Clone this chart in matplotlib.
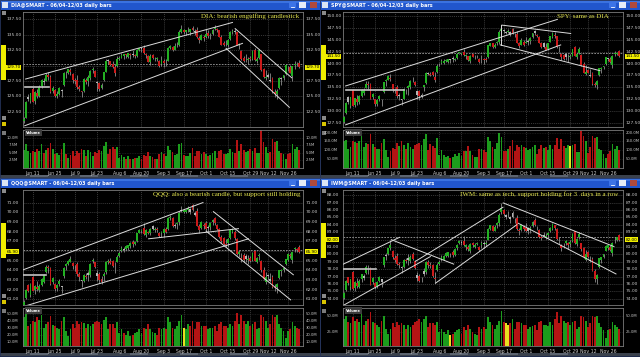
import numpy as np
import matplotlib
matplotlib.use("Agg")
import matplotlib.pyplot as plt
from matplotlib.patches import Rectangle
from matplotlib.transforms import blended_transform_factory

# ---------------------------------------------------------------- data
# 126 trading days, 2012-06-04 .. 2012-12-03 (index 0 .. 125)
date_labels = ["Jun 11", "Jun 25", "Jul 9", "Jul 23", "Aug 6", "Aug 20", "Sep 3",
               "Sep 17", "Oct 1", "Oct 15", "Oct 29", "Nov 12", "Nov 26"]
date_label_idx = [5, 15, 24, 34, 44, 54, 64, 73, 83, 93, 103, 111, 120]

# DIA
dia_open = [
    121.1, 120.9, 121.5, 124.9, 124.3, 126.2, 124.3, 125.6, 125.0, 126.6, 127.3, 127.5, 128.4, 128.2, 125.8, 126.0, 125.1, 125.4, 125.9, 126.8,
    128.8, 128.7, 129.2, 128.6, 127.6, 127.6, 126.5, 125.8, 125.8, 127.7, 127.5, 128.0, 129.2, 129.1, 127.2, 127.1, 126.3, 127.6, 129.0, 130.7, 130.7,
    130.3, 129.8, 129.9, 131.0, 131.3, 131.5, 131.8, 131.4, 131.9, 131.8, 131.7, 131.6, 132.6, 132.7, 132.8, 131.9, 131.6, 130.5, 131.7, 131.1, 131.1, 130.8, 130.3,
    130.8, 130.5, 130.8, 132.9, 133.0, 132.6, 133.4, 133.4, 135.5, 135.7, 135.4, 135.7, 135.4, 136.1, 135.5, 135.7, 134.5, 134.2, 134.7,
    134.6, 135.3, 134.9, 135.1, 135.9, 135.9, 135.7, 134.6, 133.6, 133.4, 133.4, 134.3, 135.4, 135.5, 135.4, 133.3, 132.4, 131.3, 131.1, 130.9, 131.2,
    131.0, 132.5, 130.8, 131.2, 131.8, 129.4, 127.9, 128.4, 127.5, 127.9, 125.7, 125.4, 126.3, 127.8, 127.9, 128.6, 129.8, 129.7, 128.3, 130.1, 130.2,
    130.4]
dia_high = [
    121.6, 121.7, 124.2, 125.3, 125.6, 126.5, 125.8, 126.2, 126.8, 127.8, 127.9, 128.8, 128.9, 128.4, 126.6, 126.1, 125.8, 126.5, 126.1, 128.9,
    129.1, 129.5, 129.6, 128.7, 127.9, 128.4, 126.9, 125.9, 127.9, 127.9, 128.5, 129.3, 129.7, 129.2, 127.5, 127.3, 127.2, 129.0, 131.0, 131.0, 130.8,
    130.8, 130.2, 131.5, 131.6, 132.1, 131.9, 131.9, 132.1, 132.0, 132.5, 131.9, 132.7, 132.9, 132.8, 133.3, 132.0, 131.7, 131.8, 131.9, 131.4, 131.4, 130.9, 131.5,
    131.0, 131.0, 133.0, 133.4, 133.2, 133.6, 133.8, 135.7, 136.6, 135.9, 135.8, 136.2, 136.0, 136.5, 135.9, 136.3, 134.8, 135.2, 134.9,
    135.9, 135.7, 135.3, 135.9, 136.6, 136.1, 135.8, 134.9, 134.0, 134.1, 134.3, 135.6, 135.9, 136.0, 135.5, 133.7, 132.6, 131.6, 131.8, 131.4, 131.6,
    132.5, 132.8, 131.4, 132.7, 131.9, 129.6, 129.2, 128.7, 128.7, 128.2, 126.1, 126.1, 128.1, 128.1, 128.5, 130.2, 130.0, 130.1, 130.0, 130.7, 130.6,
    130.9]
dia_low = [
    120.2, 120.6, 121.5, 124.2, 123.9, 124.0, 123.8, 124.7, 124.8, 126.3, 126.8, 127.4, 127.6, 125.5, 125.6, 124.8, 124.7, 125.2, 124.9, 126.7,
    128.0, 128.6, 128.5, 127.2, 127.0, 126.2, 125.9, 124.9, 125.7, 127.0, 126.6, 127.6, 128.8, 128.1, 125.9, 125.8, 126.1, 127.4, 128.9, 130.3, 130.0,
    129.6, 128.3, 129.8, 130.9, 131.2, 131.1, 131.3, 131.2, 131.0, 131.4, 131.3, 131.4, 132.4, 132.2, 131.8, 131.2, 130.5, 130.1, 131.1, 130.7, 130.8, 129.8, 129.9,
    129.8, 130.0, 130.7, 132.7, 132.4, 132.5, 133.0, 133.1, 135.3, 135.1, 135.0, 135.4, 134.9, 135.6, 135.0, 134.5, 133.6, 134.1, 134.0,
    134.5, 134.4, 134.3, 134.9, 135.7, 135.5, 134.6, 133.3, 133.2, 133.1, 133.0, 134.2, 135.1, 135.1, 133.3, 132.7, 130.9, 130.6, 130.6, 130.2, 130.8,
    130.9, 130.8, 130.4, 131.1, 129.1, 128.0, 127.6, 127.9, 127.3, 125.6, 124.9, 124.6, 126.2, 126.9, 127.6, 128.5, 129.1, 128.7, 127.4, 129.5, 129.9,
    129.6]
dia_close = [
    121.0, 121.3, 124.1, 124.6, 125.5, 124.1, 125.7, 125.0, 126.5, 127.7, 127.4, 128.4, 128.2, 125.7, 126.4, 125.0, 125.4, 126.3, 126.0, 128.8,
    128.7, 129.4, 129.0, 127.7, 127.4, 126.5, 126.1, 125.7, 127.8, 127.3, 128.1, 129.1, 129.4, 128.2, 127.2, 126.2, 126.8, 128.9, 130.8, 130.7, 130.1,
    129.8, 128.8, 131.0, 131.2, 131.7, 131.8, 131.7, 132.1, 131.7, 131.7, 131.6, 132.5, 132.8, 132.7, 132.0, 131.7, 130.6, 131.6, 131.2, 131.0, 131.1, 130.0, 130.9,
    130.4, 130.5, 132.9, 133.1, 132.5, 133.2, 133.3, 135.4, 135.9, 135.5, 135.7, 135.8, 136.0, 135.8, 135.6, 134.6, 134.1, 134.9, 134.4,
    135.2, 134.8, 135.0, 135.8, 136.1, 135.8, 134.7, 133.4, 133.3, 133.3, 134.2, 135.5, 135.6, 135.5, 133.4, 133.5, 131.0, 130.8, 131.0, 131.1, 131.0,
    132.3, 130.9, 131.1, 132.5, 129.3, 128.1, 128.2, 128.2, 127.6, 125.7, 125.4, 125.9, 128.0, 127.9, 128.4, 130.1, 129.7, 128.8, 129.9, 130.2, 130.3,
    129.7]
dia_vol = [  # millions
    6.5, 5.8, 7.9, 5.5, 4.9, 5.6, 5.2, 6.4, 5.6, 7.8, 4.8, 5.9, 6.6, 8.1, 6.2, 4.5, 4.9, 4.2, 6.3, 8.2,
    4.6, 3.2, 4.3, 5.7, 4.1, 5.5, 4.8, 6.2, 5.9, 4.0, 5.8, 5.2, 4.1, 5.1, 4.9, 5.8, 5.5, 7.2, 8.6, 4.7, 6.4,
    6.9, 6.1, 7.0, 3.3, 4.2, 3.5, 3.1, 3.8, 2.9, 3.0, 3.2, 3.4, 3.8, 3.1, 4.4, 4.0, 5.4, 4.1, 3.6, 3.1, 2.9, 4.6, 5.1,
    4.5, 3.9, 7.2, 5.8, 5.1, 4.2, 4.5, 7.9, 8.3, 4.3, 4.0, 4.1, 4.8, 6.6, 3.9, 5.6, 5.7, 4.5, 5.3,
    4.6, 3.9, 4.4, 4.9, 5.5, 3.4, 5.5, 5.8, 4.6, 4.7, 4.9, 6.1, 5.4, 5.0, 9.1, 5.7, 8.0, 5.9, 5.3, 5.6, 6.2,
    5.5, 6.7, 4.8, 5.0, 12.4, 8.5, 6.9, 4.9, 5.3, 9.4, 8.7, 8.9, 5.5, 4.9, 4.6, 2.9, 4.5, 4.9, 7.8, 6.2, 6.9,
    5.8]
dia_lines = [(1.8, 127.8, 95.0, 137.0), (1.4, 120.2, 99.5, 133.6),
             (96.2, 136.0, 121.7, 128.0), (92.1, 132.8, 120.6, 123.2)]
dia_level = (1.4, 12.3, 126.55)
dia_vol_flag = []

# SPY
spy_open = [
    128.4, 127.8, 129.6, 132.9, 131.0, 134.4, 131.4, 132.5, 131.9, 133.2, 133.8, 134.9, 135.8, 135.7, 132.9, 132.5, 131.6, 132.5, 132.3, 134.1,
    136.4, 136.6, 137.0, 135.7, 134.5, 135.0, 133.3, 132.4, 132.6, 134.2, 134.8, 135.1, 136.7, 136.2, 133.5, 134.2, 133.3, 135.0, 136.0, 137.8, 137.9,
    138.3, 137.2, 138.3, 139.6, 140.1, 140.2, 140.5, 140.4, 140.7, 141.2, 140.8, 141.1, 142.2, 142.0, 142.4, 141.5, 141.5, 140.5, 141.9, 141.3, 141.5, 141.0, 140.9,
    140.9, 140.8, 141.3, 143.7, 144.2, 143.4, 144.3, 144.5, 146.9, 146.8, 146.4, 146.7, 146.2, 147.2, 145.7, 146.1, 144.3, 143.9, 144.5,
    144.3, 144.6, 144.7, 145.6, 146.8, 145.9, 145.6, 144.3, 144.2, 143.4, 143.1, 144.6, 145.6, 146.0, 145.7, 143.2, 142.0, 141.8, 141.9, 141.3, 141.4,
    141.6, 143.4, 141.3, 142.3, 141.7, 139.9, 137.9, 138.6, 137.3, 138.0, 135.8, 135.6, 137.5, 138.8, 139.2, 139.8, 141.0, 141.0, 139.6, 142.0, 142.0,
    142.6]
spy_high = [
    128.7, 129.0, 131.9, 133.2, 133.0, 134.5, 132.8, 133.5, 133.5, 134.6, 134.9, 136.3, 136.3, 135.9, 133.8, 132.6, 132.5, 133.4, 132.5, 136.2,
    136.8, 137.5, 137.8, 135.8, 134.9, 135.6, 133.8, 132.6, 134.8, 134.7, 135.5, 136.6, 137.2, 136.3, 134.5, 134.4, 133.9, 135.6, 138.2, 138.3, 138.3,
    138.5, 138.3, 139.8, 140.2, 141.0, 140.9, 141.0, 141.0, 141.0, 141.6, 141.1, 142.2, 142.3, 142.3, 143.1, 142.1, 141.6, 141.8, 142.0, 141.7, 141.8, 141.1, 141.8,
    141.1, 141.3, 143.9, 144.4, 144.4, 144.4, 144.7, 147.0, 148.1, 147.2, 146.9, 147.3, 146.9, 147.5, 146.4, 146.8, 144.5, 145.3, 144.9,
    145.6, 145.2, 145.5, 146.4, 147.1, 146.1, 145.7, 144.5, 144.6, 144.4, 144.3, 145.8, 146.6, 146.6, 145.8, 143.7, 142.2, 142.1, 142.3, 141.9, 142.1,
    143.1, 143.6, 142.2, 143.4, 141.9, 140.3, 139.7, 138.8, 138.9, 138.3, 136.2, 136.5, 139.0, 139.2, 139.5, 141.4, 141.2, 141.4, 141.7, 142.6, 142.5,
    142.9]
spy_low = [
    127.1, 127.6, 129.5, 131.6, 130.6, 131.1, 130.8, 131.4, 131.5, 132.9, 133.4, 134.8, 134.7, 132.5, 132.6, 131.2, 131.0, 132.1, 131.1, 133.9,
    135.3, 136.5, 136.3, 134.1, 133.9, 132.8, 132.4, 131.4, 132.5, 133.6, 133.4, 134.6, 136.2, 135.3, 132.5, 132.4, 132.7, 134.2, 135.8, 137.5, 137.4,
    137.3, 136.2, 138.1, 139.5, 139.9, 140.0, 140.4, 140.2, 140.1, 140.3, 140.6, 140.9, 141.9, 141.7, 141.6, 140.9, 140.5, 140.2, 141.3, 140.9, 141.2, 140.1, 140.1,
    139.9, 140.3, 141.2, 143.6, 143.3, 143.3, 143.8, 144.0, 146.6, 146.4, 146.1, 146.4, 145.7, 146.2, 145.6, 144.3, 143.3, 143.8, 143.7,
    144.2, 143.8, 144.1, 145.4, 145.9, 145.5, 144.2, 143.3, 143.3, 142.9, 142.8, 144.5, 145.4, 145.4, 143.3, 142.4, 140.8, 140.8, 140.7, 140.4, 140.9,
    141.5, 141.5, 141.0, 142.1, 139.5, 138.0, 137.6, 138.0, 137.2, 135.6, 135.0, 134.7, 137.4, 138.0, 138.8, 139.7, 140.5, 140.2, 139.0, 141.5, 141.7,
    141.4]
spy_close = [
    128.1, 128.9, 131.8, 131.9, 132.9, 131.2, 132.7, 131.9, 133.2, 134.4, 134.5, 135.8, 135.6, 132.6, 133.6, 131.5, 132.3, 133.2, 132.3, 136.1,
    136.5, 137.4, 136.7, 134.6, 134.3, 133.2, 133.2, 132.5, 134.6, 134.3, 135.3, 136.4, 136.8, 135.5, 134.3, 133.1, 133.2, 135.5, 138.0, 137.9, 137.7,
    137.6, 136.6, 139.4, 139.7, 140.5, 140.6, 140.8, 141.0, 140.9, 140.9, 141.0, 142.0, 142.2, 142.2, 141.8, 141.8, 140.7, 141.5, 141.4, 141.4, 141.5, 140.3, 141.0,
    140.8, 140.7, 143.8, 144.3, 143.4, 143.9, 144.4, 146.6, 147.2, 146.8, 146.6, 146.8, 146.7, 146.3, 145.8, 144.4, 143.6, 145.0, 143.9,
    144.4, 144.5, 145.3, 146.4, 146.4, 145.8, 144.3, 143.4, 143.4, 142.9, 144.2, 145.7, 146.3, 145.8, 143.4, 143.3, 141.4, 141.0, 141.4, 141.4, 141.4,
    143.0, 141.6, 142.0, 143.1, 139.7, 138.0, 138.2, 138.1, 137.6, 135.7, 135.4, 136.4, 139.0, 139.1, 139.4, 141.4, 141.1, 140.4, 141.6, 142.2, 142.2,
    141.5]
spy_vol = [
    140, 150, 160, 110, 120, 150, 145, 140, 155, 180, 120, 140, 135, 190, 135, 120, 110, 105, 140, 165,
    100, 60, 95, 115, 105, 140, 125, 150, 130, 110, 140, 120, 105, 130, 135, 140, 130, 165, 190, 100, 135,
    125, 115, 170, 75, 100, 75, 60, 70, 55, 65, 80, 70, 85, 70, 95, 95, 125, 95, 75, 65, 65, 110, 110,
    100, 90, 175, 150, 120, 110, 140, 200, 175, 95, 95, 110, 125, 160, 95, 130, 120, 130, 120,
    115, 100, 110, 120, 130, 80, 110, 130, 115, 120, 100, 130, 110, 130, 170, 110, 165, 125, 115, 130, 125,
    130, 135, 90, 90, 210, 180, 150, 85, 120, 180, 170, 175, 110, 100, 80, 55, 80, 95, 135, 110, 125,
    100]
spy_lines = [(1.8, 135.3, 97.2, 149.25), (1.8, 127.15, 98.7, 143.9),
             (72.2, 148.05, 103.2, 146.3), (71.5, 143.9, 116.4, 138.5),
             (72.0, 148.05, 72.0, 143.9)]
spy_level = (1.8, 28.0, 134.5)
spy_vol_flag = [103]

# QQQ
qqq_open = [
    60.5, 60.4, 61.1, 62.5, 61.4, 63.3, 62.0, 62.3, 62.0, 62.5, 62.8, 63.8, 64.3, 64.2, 62.8, 62.6, 62.2, 62.6, 62.3, 63.4,
    64.4, 64.6, 64.9, 64.7, 64.3, 64.6, 63.6, 62.9, 62.9, 63.4, 63.7, 63.5, 65.0, 64.8, 63.4, 63.6, 63.1, 63.4, 63.8, 64.9, 65.0,
    65.0, 64.1, 64.9, 65.5, 66.0, 66.1, 66.2, 66.3, 66.5, 66.9, 66.7, 67.0, 67.9, 68.1, 68.4, 67.6, 68.0, 67.8, 68.6, 68.2, 68.3, 67.9, 67.9,
    67.8, 68.3, 68.3, 69.4, 69.4, 68.7, 68.8, 69.0, 70.2, 70.0, 70.0, 70.2, 70.0, 70.7, 69.7, 70.1, 68.6, 68.4, 68.7,
    68.9, 68.5, 68.5, 69.0, 69.4, 68.7, 68.3, 67.4, 67.3, 66.7, 66.8, 67.3, 68.0, 68.0, 67.2, 65.7, 65.3, 65.6, 65.5, 65.1, 65.3,
    65.1, 66.0, 64.9, 65.5, 65.0, 64.0, 62.8, 63.5, 62.9, 63.3, 62.3, 62.3, 63.2, 63.9, 64.0, 64.6, 65.1, 65.6, 65.1, 66.2, 66.2,
    66.4]
qqq_high = [
    60.9, 60.9, 62.1, 62.6, 62.7, 63.4, 62.5, 62.9, 62.6, 63.2, 63.6, 64.5, 64.5, 64.3, 63.3, 62.7, 62.6, 63.1, 62.4, 64.3,
    64.7, 65.1, 65.5, 64.8, 64.5, 64.9, 63.8, 63.0, 63.6, 63.7, 63.9, 64.7, 65.3, 64.9, 64.0, 63.8, 63.4, 63.8, 65.0, 65.2, 65.3,
    65.1, 64.8, 65.6, 66.0, 66.5, 66.4, 66.6, 66.6, 66.9, 67.1, 67.0, 67.9, 68.3, 68.3, 68.9, 68.3, 68.1, 68.4, 68.7, 68.5, 68.5, 68.0, 68.1,
    68.4, 68.5, 69.5, 69.7, 69.5, 68.9, 69.0, 70.1, 70.6, 70.3, 70.3, 70.6, 70.4, 70.8, 70.1, 70.4, 68.8, 69.1, 68.9,
    69.1, 68.7, 69.0, 69.3, 69.5, 68.8, 68.4, 67.6, 67.4, 67.2, 67.3, 68.3, 68.4, 68.2, 67.3, 66.1, 65.8, 65.8, 65.7, 65.6, 65.5,
    65.9, 66.1, 65.4, 65.8, 65.1, 64.3, 63.8, 63.6, 63.7, 63.5, 62.6, 62.7, 64.0, 64.1, 64.3, 65.2, 65.8, 65.8, 65.9, 66.4, 66.3,
    66.6]
qqq_low = [
    60.2, 60.3, 61.0, 61.7, 61.2, 61.8, 61.5, 61.8, 61.7, 62.4, 62.7, 63.7, 63.7, 62.5, 62.6, 61.9, 61.9, 62.4, 61.6, 63.2,
    64.0, 64.5, 64.8, 64.1, 63.9, 63.4, 62.9, 62.3, 62.8, 63.1, 62.9, 63.3, 64.7, 64.2, 62.9, 62.7, 62.6, 62.9, 63.6, 64.6, 64.6,
    64.3, 63.7, 64.8, 65.4, 65.9, 65.9, 66.1, 66.1, 66.3, 66.4, 66.6, 66.9, 67.8, 67.9, 67.6, 67.4, 67.7, 67.6, 68.2, 68.0, 68.0, 67.4, 67.4,
    67.4, 67.9, 68.2, 69.2, 68.5, 68.4, 68.3, 68.7, 70.0, 69.9, 69.9, 70.0, 69.8, 70.1, 69.6, 68.6, 67.9, 68.3, 68.3,
    68.1, 67.9, 68.2, 68.7, 68.7, 68.2, 67.3, 66.8, 66.6, 66.4, 66.4, 67.2, 67.8, 67.1, 65.6, 65.4, 64.9, 64.9, 64.9, 64.6, 64.8,
    65.0, 65.0, 64.7, 65.1, 63.8, 63.0, 62.6, 63.0, 62.8, 62.2, 61.9, 61.6, 63.1, 63.4, 63.8, 64.5, 65.0, 65.3, 64.7, 65.9, 65.9,
    65.8]
qqq_close = [
    60.6, 60.7, 62.0, 61.8, 62.6, 61.9, 62.4, 62.1, 62.4, 63.1, 63.5, 64.3, 64.2, 62.6, 63.2, 62.1, 62.5, 62.9, 62.3, 64.2,
    64.6, 65.0, 65.2, 64.4, 64.3, 63.6, 63.3, 62.9, 63.5, 63.3, 63.5, 64.6, 65.1, 64.3, 63.7, 63.0, 62.8, 63.6, 64.9, 64.9, 64.7,
    64.4, 64.1, 65.4, 65.8, 66.3, 66.2, 66.5, 66.6, 66.8, 66.7, 66.9, 67.8, 68.2, 68.2, 67.7, 68.2, 67.9, 68.3, 68.3, 68.3, 68.2, 67.5, 67.9,
    68.3, 68.0, 69.4, 69.5, 68.6, 68.6, 68.9, 69.9, 70.1, 70.2, 70.2, 70.4, 70.3, 70.2, 69.9, 68.6, 68.2, 69.0, 68.6,
    68.3, 68.4, 68.9, 69.2, 68.9, 68.3, 67.4, 67.0, 66.7, 66.6, 67.2, 68.2, 68.3, 67.3, 65.7, 65.9, 65.2, 65.1, 65.2, 65.2, 65.0,
    65.8, 65.0, 65.3, 65.6, 64.0, 63.1, 63.3, 63.4, 63.1, 62.3, 62.2, 62.6, 64.0, 64.0, 64.2, 65.2, 65.7, 65.5, 65.9, 66.2, 66.1,
    65.9]
qqq_vol = [
    55, 45, 50, 32, 35, 40, 38, 45, 42, 48, 30, 35, 38, 47, 34, 32, 30, 28, 40, 45,
    25, 18, 28, 35, 30, 40, 35, 38, 37, 30, 35, 32, 35, 38, 40, 38, 35, 42, 45, 28, 36,
    35, 30, 38, 22, 28, 22, 20, 25, 18, 20, 22, 24, 28, 22, 30, 28, 35, 28, 24, 22, 20, 30, 28,
    30, 28, 45, 38, 30, 28, 32, 40, 48, 30, 28, 35, 33, 40, 28, 38, 38, 32, 33,
    32, 28, 30, 30, 33, 25, 35, 38, 32, 32, 30, 35, 32, 40, 52, 35, 48, 40, 35, 40, 33,
    35, 38, 28, 30, 48, 45, 40, 30, 35, 48, 45, 48, 35, 30, 25, 15, 25, 28, 38, 32, 30,
    28]
qqq_lines = [(0.8, 64.05, 81.7, 71.0), (0.8, 60.24, 102.2, 67.25),
             (57.2, 67.25, 97.7, 68.3), (86.4, 70.06, 122.4, 63.53),
             (83.1, 68.05, 121.2, 60.93)]
qqq_level = (0.8, 10.8, 63.47)
qqq_vol_flag = [73]

# IWM
iwm_open = [
    74.2, 74.1, 75.2, 76.9, 75.6, 77.6, 75.5, 76.1, 75.6, 76.6, 76.8, 77.5, 78.2, 78.1, 76.2, 76.1, 75.7, 76.4, 76.3, 78.5,
    79.9, 80.0, 80.8, 80.5, 79.5, 79.8, 78.7, 78.1, 78.3, 79.2, 79.5, 79.1, 80.0, 79.1, 76.8, 77.1, 76.5, 77.8, 77.6, 79.0, 78.6,
    78.6, 76.8, 77.9, 78.7, 79.2, 79.3, 79.8, 79.8, 80.0, 80.3, 79.9, 80.8, 81.5, 81.6, 81.8, 81.0, 81.0, 80.5, 81.6, 81.0, 81.4, 81.0, 81.2,
    81.4, 81.4, 82.0, 83.4, 83.8, 83.2, 84.0, 84.2, 85.7, 86.0, 85.1, 85.4, 84.8, 85.6, 84.7, 84.9, 83.3, 83.3, 83.8,
    83.6, 83.5, 83.3, 83.8, 84.7, 83.6, 83.3, 82.3, 82.6, 82.4, 82.6, 83.1, 83.4, 83.9, 83.4, 82.0, 81.2, 81.3, 81.6, 81.6, 81.4,
    81.8, 83.1, 81.4, 82.3, 81.5, 80.8, 79.3, 80.3, 79.1, 79.4, 77.8, 76.7, 78.3, 79.3, 79.7, 80.4, 80.9, 81.0, 80.2, 81.9, 82.0,
    82.6]
iwm_high = [
    74.7, 74.9, 76.5, 77.0, 76.7, 77.7, 76.4, 76.8, 76.6, 77.4, 77.3, 78.5, 78.5, 78.3, 76.9, 76.2, 76.4, 77.1, 76.7, 79.7,
    80.2, 80.9, 82.0, 80.6, 79.9, 80.2, 79.0, 78.4, 79.4, 79.5, 80.0, 79.9, 80.3, 79.2, 77.6, 77.3, 77.0, 78.1, 79.1, 79.3, 78.9,
    78.7, 77.6, 78.8, 79.3, 79.9, 79.9, 80.3, 80.3, 80.2, 80.6, 80.8, 81.4, 81.9, 81.9, 82.5, 81.4, 81.2, 81.6, 81.7, 81.5, 81.7, 81.1, 81.8,
    81.8, 81.9, 83.5, 84.0, 84.0, 83.9, 84.4, 85.6, 86.9, 86.1, 85.5, 85.8, 85.2, 85.8, 84.9, 85.3, 83.5, 84.1, 84.0,
    84.3, 83.7, 83.8, 84.5, 84.9, 83.8, 83.4, 82.6, 83.0, 82.9, 83.0, 83.7, 84.2, 84.0, 83.5, 82.3, 81.4, 81.6, 82.0, 81.7, 82.0,
    82.9, 83.2, 82.2, 83.0, 81.6, 81.0, 80.6, 80.4, 79.8, 79.6, 78.0, 77.3, 79.5, 79.7, 80.1, 81.2, 81.3, 81.3, 81.7, 82.3, 82.4,
    82.8]
iwm_low = [
    73.5, 73.9, 75.1, 75.9, 75.2, 75.2, 75.0, 75.5, 75.4, 76.3, 76.5, 77.4, 77.4, 75.8, 76.0, 75.3, 75.4, 76.2, 75.6, 78.3,
    79.2, 79.9, 80.6, 79.4, 79.0, 78.5, 78.1, 77.5, 78.2, 78.8, 78.6, 78.8, 79.2, 78.0, 76.4, 76.2, 76.2, 77.1, 77.4, 78.2, 78.2,
    76.9, 76.1, 77.8, 78.6, 79.1, 79.2, 79.6, 79.6, 79.6, 79.6, 79.8, 80.6, 81.4, 81.2, 81.1, 80.6, 80.5, 80.2, 81.0, 80.9, 81.2, 80.4, 80.8,
    80.9, 81.1, 81.9, 83.3, 83.1, 83.1, 83.6, 83.8, 85.5, 85.2, 84.8, 85.1, 84.3, 84.9, 84.3, 83.3, 82.6, 83.2, 83.1,
    83.0, 82.7, 82.9, 83.7, 83.8, 83.3, 82.2, 81.9, 82.3, 82.1, 82.2, 83.0, 83.3, 83.3, 82.0, 81.4, 80.5, 80.8, 81.2, 80.7, 81.0,
    81.7, 81.4, 81.1, 82.1, 80.4, 79.5, 79.1, 79.5, 78.9, 77.7, 76.2, 76.0, 78.2, 78.8, 79.5, 80.4, 80.6, 80.4, 79.8, 81.6, 81.8,
    81.8]
iwm_close = [
    74.4, 74.8, 76.4, 76.1, 76.6, 75.3, 76.3, 75.7, 76.4, 77.3, 77.1, 78.3, 78.1, 75.9, 76.8, 75.6, 76.3, 77.0, 76.6, 79.6,
    79.8, 80.8, 81.3, 79.7, 79.3, 78.7, 78.6, 78.3, 79.3, 79.1, 79.3, 79.7, 79.4, 78.1, 77.2, 76.4, 76.5, 77.4, 79.0, 78.5, 78.4,
    77.1, 76.6, 78.6, 78.9, 79.6, 79.8, 80.2, 80.3, 80.0, 79.9, 80.7, 81.3, 81.8, 81.7, 81.3, 81.3, 80.7, 81.4, 81.2, 81.3, 81.4, 80.6, 81.6,
    81.5, 81.5, 83.4, 83.9, 83.2, 83.7, 84.2, 85.3, 86.3, 85.4, 85.3, 85.5, 85.1, 85.1, 84.6, 83.4, 83.1, 84.0, 83.4,
    83.2, 83.2, 83.6, 84.4, 84.0, 83.5, 82.3, 82.2, 82.5, 82.5, 82.9, 83.6, 84.1, 83.5, 82.1, 81.9, 80.9, 81.2, 81.8, 81.2, 81.7,
    82.8, 81.5, 82.1, 82.8, 80.7, 79.6, 80.1, 79.7, 79.2, 77.8, 76.6, 77.2, 79.5, 79.6, 80.0, 81.1, 81.2, 80.6, 81.6, 81.9, 82.3,
    82.0]
iwm_vol = [
    55, 45, 50, 40, 38, 48, 42, 45, 40, 52, 35, 42, 45, 55, 40, 38, 35, 32, 42, 50,
    30, 22, 30, 38, 32, 40, 35, 38, 35, 30, 35, 33, 35, 40, 42, 45, 40, 45, 50, 32, 38,
    38, 35, 40, 25, 30, 25, 22, 28, 20, 22, 25, 28, 30, 22, 32, 28, 35, 30, 25, 22, 20, 32, 30,
    32, 30, 48, 40, 35, 30, 35, 42, 58, 40, 38, 35, 38, 45, 30, 40, 40, 38, 35,
    36, 30, 32, 34, 35, 28, 40, 42, 35, 36, 34, 40, 36, 45, 55, 38, 50, 42, 38, 40, 36,
    40, 42, 30, 32, 50, 48, 42, 32, 38, 50, 48, 50, 38, 32, 28, 15, 28, 30, 40, 35, 32,
    30]
iwm_lines = [(0.8, 78.68, 26.1, 82.3), (0.8, 73.1, 40.0, 79.7),
             (22.4, 81.98, 50.5, 78.68), (33.3, 79.06, 72.7, 86.37),
             (42.3, 76.1, 78.9, 84.0), (72.8, 86.95, 122.7, 81.05),
             (79.6, 84.2, 123.6, 77.35)]
iwm_level = (0.8, 15.3, 78.06)
iwm_vol_flag = [49, 74, 75]

# ---------------------------------------------------------------- style
W, H = 640, 357
GREEN, RED, GRAY = "#22b022", "#cc1a1a", "#b4b4b4"
VGREEN, VRED, VYEL = "#1c9c1c", "#b41414", "#e8e020"
GRID = "#4e4e4e"
LABEL = "#c8c8c8"
TITLE_BLUE = "#2156cc"
NOTE = "#e6e650"

fig = plt.figure(figsize=(W / 100, H / 100), dpi=100)
fig.patch.set_facecolor("black")
bg = fig.add_axes([0, 0, 1, 1])
bg.set_xlim(0, W)
bg.set_ylim(H, 0)
bg.axis("off")


def px_axes(x, y, w, h):
    """Axes placed in top-left pixel coordinates."""
    ax = fig.add_axes([x / W, 1 - (y + h) / H, w / W, h / H])
    ax.set_facecolor("black")
    for s in ax.spines.values():
        s.set_color("#7a7a7a")
        s.set_linewidth(0.6)
    ax.set_xticks([])
    ax.set_yticks([])
    return ax


def chrome(ox, oy, name):
    bg.add_patch(Rectangle((ox, oy), 320, 9.5, color=TITLE_BLUE, lw=0))
    bg.add_patch(Rectangle((ox, oy), 320, 2.5, color="#3a72e0", lw=0))
    bg.add_patch(Rectangle((ox + 2, oy + 1.5), 6, 6, color="#dce6f4", lw=0))
    bg.text(ox + 11, oy + 5, f"{name}@SMART - 06/04-12/03 daily bars",
            color="white", fontsize=3.5, fontweight="bold", va="center")
    bg.add_patch(Rectangle((ox + 289, oy + 1.5), 7, 6.5, color="#3d74e6", lw=0))
    bg.plot([ox + 291, ox + 294], [oy + 6.5, oy + 6.5], color="white", lw=0.6)
    bg.add_patch(Rectangle((ox + 299, oy + 1.5), 7, 6.5, color="#e8eef8", lw=0))
    bg.add_patch(Rectangle((ox + 309.5, oy + 1.5), 7, 6.5, color="#b04a3c", lw=0))
    # left tool strip
    bg.add_patch(Rectangle((ox + 1.5, oy + 11), 4, 4, color="#8a8a8a", lw=0))
    bg.add_patch(Rectangle((ox + 1, oy + 45), 4.5, 35, color="#f0ee00", lw=0))
    bg.add_patch(Rectangle((ox + 1.5, oy + 116), 4, 4, color="#8a8a8a", lw=0))
    bg.add_patch(Rectangle((ox + 1.5, oy + 122), 4, 4, color="#d8c400", lw=0))
    bg.add_patch(Rectangle((ox + 1.5, oy + 131), 4, 4, color="#7a7a7a", lw=0))
    # status strip at the bottom of the window
    bg.add_patch(Rectangle((ox, oy + 174.5), 320, 3.5, color="#3a414c", lw=0))
    for sx in (30, 80, 130, 180, 230):
        bg.add_patch(Rectangle((ox + sx, oy + 175.3), 18, 1.8, color="#5c6470", lw=0))
    bg.add_patch(Rectangle((ox, oy), 320, 178, fill=False, ec="#26345c", lw=0.6))


def panel(ox, oy, name, o, h, l, c, v, ylim, yticks, vlim, vticks,
          lines, level, vflag, note, note_x, note_size):
    o, h, l, c, v = map(np.asarray, (o, h, l, c, v))
    x = np.arange(len(c))
    xlim = (0.63, 126.76)
    chrome(ox, oy, name)

    ax = px_axes(ox + 23, oy + 12, 280, 115)
    ax.set_xlim(*xlim)
    ax.set_ylim(*ylim)
    px_per_unit = 115 / (ylim[1] - ylim[0])
    for t in yticks:
        ax.axhline(t, color=GRID, lw=0.5, ls=(0, (1.5, 1.5)), zorder=1)
    for i in date_label_idx:
        ax.axvline(i, color=GRID, lw=0.5, ls=(0, (1.5, 1.5)), zorder=1)
    # previous close reference
    ax.axhline(c[-2], color="#a0a0a0", lw=0.6, ls=(0, (2, 1.5)), zorder=2)

    prev = np.r_[c[0], c[:-1]]
    up_day = c >= prev
    up_bar = c >= o
    col = np.where(up_bar & up_day, GREEN, np.where(~up_bar & ~up_day, RED, GRAY))
    ax.vlines(x, l, h, colors="#9a9a9a", lw=0.55, zorder=3)
    body = np.maximum(np.abs(c - o), 0.7 / px_per_unit)
    ax.bar(x, body, bottom=np.minimum(o, c), width=0.85, color=col, lw=0, zorder=4)

    for x0, p0, x1, p1 in lines:
        ax.plot([x0, x1], [p0, p1], color="#dcdcdc", lw=0.7, zorder=5)
    ax.plot([level[0], level[1]], [level[2], level[2]], color="#c4c4c4", lw=1.2, zorder=5)

    tr = blended_transform_factory(ax.transAxes, ax.transData)
    for t in yticks:
        if abs(t - c[-1]) * px_per_unit < 4.2:
            continue  # hidden behind the last-price tag
        lab = f"{t:.2f}"
        ax.text(-16 / 280, t, lab, transform=tr, color=LABEL, fontsize=3.2,
                va="center", ha="left", clip_on=False)
        ax.text(1 + 3 / 280, t, lab, transform=tr, color=LABEL, fontsize=3.2,
                va="center", ha="left", clip_on=False)
    for xx in (-16.5 / 280, 1 + 2.5 / 280):
        ax.text(xx, c[-1], f"{c[-1]:.2f}", transform=tr, color="black",
                fontsize=3.0, va="center", ha="left", clip_on=False,
                bbox=dict(boxstyle="square,pad=0.15", fc="#f0ee00", ec="none"))
    ax.text((note_x - 23) / 280, 1 - 4.5 / 115, note, transform=ax.transAxes,
            color=NOTE, fontsize=note_size, family=["Liberation Serif", "DejaVu Serif"],
            va="center", ha="left", zorder=6)

    axv = px_axes(ox + 23, oy + 130, 280, 38)
    axv.set_xlim(*xlim)
    axv.set_ylim(*vlim)
    for i in date_label_idx:
        axv.axvline(i, color=GRID, lw=0.5, ls=(0, (1.5, 1.5)), zorder=1)
    for t in vticks:
        axv.axhline(t, color="#303030", lw=0.4, ls=(0, (1.5, 1.5)), zorder=1)
    vcol = np.where(up_day, VGREEN, VRED).astype(object)
    for i in vflag:
        vcol[i] = VYEL
    axv.bar(x, v, width=0.82, color=list(vcol), lw=0, zorder=2)
    trv = blended_transform_factory(axv.transAxes, axv.transData)
    for t in vticks:
        lab = f"{t:.1f}M"
        axv.text(-5 / 280, t, lab, transform=trv, color=LABEL, fontsize=2.7,
                 va="center", ha="right", clip_on=False)
        axv.text(1 + 2.5 / 280, t, lab, transform=trv, color=LABEL, fontsize=2.7,
                 va="center", ha="left", clip_on=False)
    axv.text(3 / 280, 1 - 2.5 / 38, "Volume", transform=axv.transAxes, color="white",
             fontsize=2.6, fontweight="bold", va="center", ha="left", zorder=5,
             bbox=dict(boxstyle="square,pad=0.3", fc="#3c3c3c", ec="none"))
    axv.set_xticks(date_label_idx)
    axv.set_xticklabels(date_labels)
    axv.tick_params(axis="x", length=0, pad=2.2, labelsize=3.3, labelcolor=LABEL)


panel(0, 0, "DIA", dia_open, dia_high, dia_low, dia_close, dia_vol,
      (120.0, 138.7), [122.5, 125, 127.5, 130, 132.5, 135, 137.5],
      (0, 12.5), [2.5, 5.0, 7.5, 10.0], dia_lines, dia_level, dia_vol_flag,
      "DIA: bearish engulfing candlestick", 201, 5.0)
panel(320, 0, "SPY", spy_open, spy_high, spy_low, spy_close, spy_vol,
      (126.7, 150.8), [127.5, 130, 132.5, 135, 137.5, 140, 142.5, 145, 147.5, 150],
      (0, 215), [50, 100, 150, 200], spy_lines, spy_level, spy_vol_flag,
      "SPY: same as DIA", 237, 5.0)
panel(0, 178, "QQQ", qqq_open, qqq_high, qqq_low, qqq_close, qqq_vol,
      (60.4, 72.3), [61, 62, 63, 64, 65, 66, 67, 68, 69, 70, 71],
      (3.8, 58.7), [10, 20, 30, 40, 50], qqq_lines, qqq_level, qqq_vol_flag,
      "QQQ: also a bearish candle, but support still holding", 153, 5.0)
panel(320, 178, "IWM", iwm_open, iwm_high, iwm_low, iwm_close, iwm_vol,
      (73.15, 88.7), list(range(74, 89)),
      (2.7, 62), [25, 50], iwm_lines, iwm_level, iwm_vol_flag,
      "IWM: same as tech, support holding for 3  days in a row", 140, 5.0)

fig.savefig("out.png", dpi=100, facecolor="black")
